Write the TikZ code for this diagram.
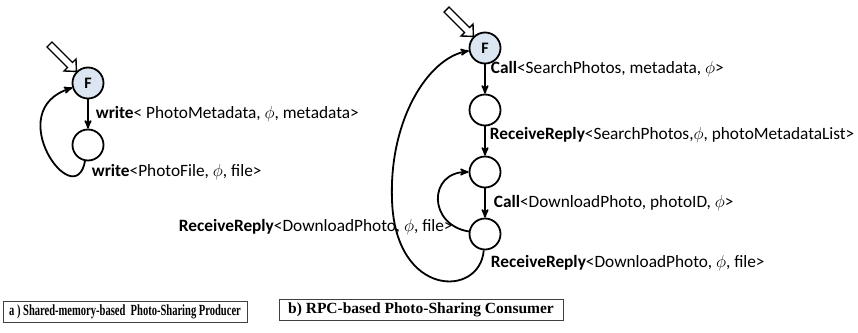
\documentclass[tikz,border=0pt]{standalone}
\usepackage{fontspec}
\setmainfont{Carlito}
\newfontfamily\capfont[FakeStretch=0.68]{Liberation Serif}
\newfontfamily\capfontb{Liberation Serif}
\usetikzlibrary{arrows,positioning}
\definecolor{startblue}{RGB}{220,230,242}

% hollow start arrow, tip at #1
\newcommand{\startarrow}[1]{%
  \draw[-,line width=1.4pt,fill=white,shift={(#1)}] (0,0) -- (-0.4,-12.4) -- (-3.9,-8.9)
    -- (-24.4,-29.4) -- (-29.4,-24.4) -- (-8.9,-3.9) -- (-12.4,-0.4) -- cycle;}

\begin{document}
\begin{tikzpicture}[x=1pt,y=-1pt,->,>=stealth',line width=1.8pt,node distance=62pt,
  state/.style={circle,draw,line width=1.8pt,minimum size=31pt,inner sep=0pt,
    font=\fontsize{16}{16}\selectfont\bfseries},
  first/.style={state,fill=startblue},
  lab/.style={font=\fontsize{17.3}{18}\selectfont,inner sep=2pt},
  capbox/.style={draw=black!75,line width=0.8pt,minimum height=21pt,inner sep=0pt}]
\useasboundingbox (0,0) rectangle (858,332);

% a) producer
\node[first] (prod1) at (88,83) {F};
\node[state] (prod2) [below of=prod1] {};
\startarrow{prod1.north west}

\path (prod1) edge node[lab,right=5pt,pos=0.5] {\textbf{write}< PhotoMetadata, $\phi$, metadata>} (prod2);
\draw (prod2) .. controls (75,215) and (0,110) .. (prod1);
\node[lab,anchor=west] (labP2) at (89,172) {\textbf{write}<PhotoFile, $\phi$, file>};

% b) consumer
\node[first] (cons1) at (485,48) {F};
\node[state] (cons2) [below of=cons1] {};
\node[state] (cons3) [below of=cons2] {};
\node[state] (cons4) [below of=cons3] {};
\startarrow{cons1.north west}

\path (cons1) edge node[lab,right=3pt,pos=0.15] {\textbf{Call}<SearchPhotos,\ metadata, $\phi$>} (cons2);
\path (cons2) edge node[lab,right=2pt,pos=0.3] {\textbf{ReceiveReply}<SearchPhotos,$\phi$, photoMetadataList>} (cons3);
\path (cons3) edge node[lab,right=6pt,pos=0.5] {\textbf{Call}<DownloadPhoto,\ photoID, $\phi$>} (cons4);
\draw (cons4) .. controls (428,225) and (428,172) .. (cons3);
\draw (cons4) .. controls (480,298) and (395,298) .. (392,200)
  .. controls (389,120) and (428,58) .. (cons1);
\node[lab,anchor=west] (labC4) at (176,227) {\textbf{ReceiveReply}<DownloadPhoto, $\phi$, file>};
\node[lab,anchor=west] (labC5) at (488,263) {\textbf{ReceiveReply}<DownloadPhoto, $\phi$, file>};

% captions
\node[capbox,minimum width=244pt,font=\capfont\bfseries\fontsize{15.5}{17}\selectfont] (capA) at (125,311.5)
  {a ) Shared-memory-based\ \ Photo-Sharing Producer};
\node[capbox,minimum width=284pt,font=\capfontb\bfseries\fontsize{15.5}{17}\selectfont] (capB) at (421,309.5)
  {b) RPC-based Photo-Sharing Consumer};
\end{tikzpicture}
\end{document}
